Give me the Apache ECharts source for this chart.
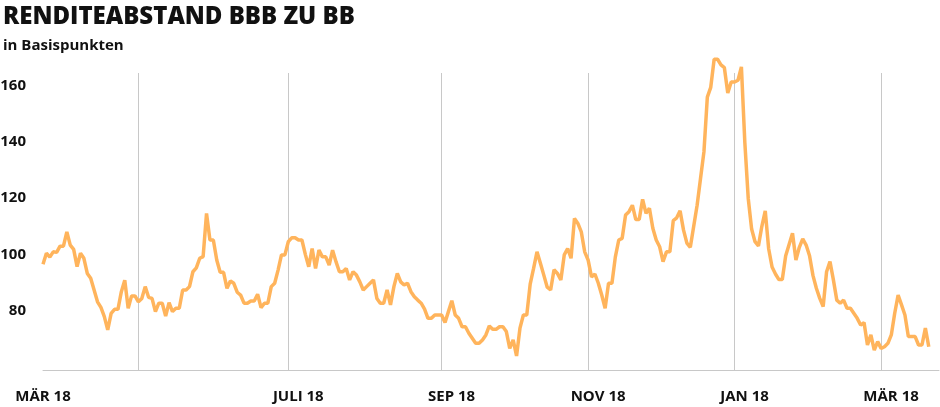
<!DOCTYPE html>
<html><head><meta charset="utf-8">
<script src="https://cdn.jsdelivr.net/npm/echarts@6/dist/echarts.min.js"></script>
<style>html,body{margin:0;padding:0;background:#fff}#c{width:940px;height:407px}</style>
</head><body><div id="c"></div>
<script>
// Business-day series, starting Thursday 22 March 2018
const startDate = '2018-03-22';
const categoryCount = 264; // axis extends a few days past the last value
const spread = [
  96.5, 100.4, 99, 100.9, 100.7, 102.9, 102.9, 108, 103.3, 101.8,
  95.6, 100.4, 98.6, 93.2, 91.5, 87.3, 83.1, 81.1, 77.8, 73.1,
  79, 80.4, 80.4, 86.7, 90.8, 80.8, 85.2, 85.2, 83.1, 84.3,
  88.5, 84.7, 84.3, 79.6, 82.6, 82.6, 78, 82.8,
  79.6, 80.8, 80.8, 87.3, 87.3, 88.5, 93.8, 95.2, 98.6, 99.2,
  114.6, 105.1, 105.1, 98, 93.6, 93.6, 87.9, 90.5, 89.7, 86.5,
  85.5, 82.6, 82.6, 83.4, 83.4, 85.8, 81, 82.6, 82.6, 88.5,
  89.7, 94.4, 99.8, 99.8, 104.5, 105.9, 105.9,
  105.1, 105.1, 100, 95.6, 102.1, 95, 101.5, 99.1, 99.1, 96.2,
  101.5, 97.4, 93.8, 93.8, 95, 90.9, 93.8, 92.6, 90.2, 87.3,
  88.5, 89.7, 90.9, 84.3, 82.6, 82.6, 87.3, 82, 88.5, 93.2,
  90.2, 89.1, 89.7, 86.7, 84.9, 83.7, 82.6,
  80.5, 77.2, 77.2, 78.4, 78.4, 78.4, 75.7, 79.6, 83.5, 78.4,
  77.2, 74.2, 74.2, 71.9, 70.1, 68.3, 68.3, 69.5, 71.3, 74.5,
  73.3, 73.3, 74.2, 74.2, 72.5, 66.5, 69.5, 63.8, 73.7, 78.4,
  78.4, 89.4, 95, 100.9, 96.8, 92.6, 88.3, 87.3,
  94.5, 93.2, 90.9, 99.8, 102.1, 98.6, 112.8, 111, 108, 100.9,
  98, 92, 93, 89.7, 85.5, 80.8, 89.7, 89.7, 99.1, 105.1,
  105.7, 114, 115.2, 117.5, 112.4, 112.4, 119.6, 114.6, 116.4, 109.3,
  105.1, 102.7, 97.4, 100.9, 100.9, 112, 113, 115.5,
  108.7, 104, 102.5, 110, 117.5, 127, 136.5, 156, 159.5, 169.5,
  169.5, 167.5, 166.5, 157.5, 161.4, 161.4, 162, 166.8, 140, 120,
  109, 104.5, 103, 110, 115.5, 102, 95.5, 93, 91, 91,
  99.5, 103.5, 107.5, 98, 102.5, 105.5, 103.3, 99.5, 92.5, 87.9,
  84.3, 81.4, 93.8, 97.4, 90.9, 83.7, 82.6, 83.7, 80.8, 80.8,
  79, 77.2, 74.8, 75.7, 67.7, 71.3, 65.9, 68.9, 66.5, 67.1,
  68.3, 71.3, 79, 85.5, 82, 78.4, 70.7, 70.7, 70.7, 67.7,
  67.7, 73.7, 67.1
];
const tickLabels = ['MÄR 18', 'JULI 18', 'SEP 18', 'NOV 18', 'JAN 18', 'MÄR 18'];
const yTickValues = [80, 100, 120, 140, 160];
const gridMonths = [4, 6, 8, 10, 0, 2];   // May, Jul, Sep, Nov, Jan, Mar
const labelMonths = [6, 8, 10, 0, 2];     // labelled months (plus first point)

const dates = [];
const d = new Date(startDate + 'T00:00:00Z');
while (dates.length < categoryCount) {
  const wd = d.getUTCDay();
  if (wd !== 0 && wd !== 6) dates.push(d.toISOString().slice(0, 10));
  d.setUTCDate(d.getUTCDate() + 1);
}
const monthOf = s => +s.slice(5, 7) - 1;
const gridIdx = [], labelIdx = [0];
dates.forEach((s, i) => {
  if (i > 0 && monthOf(s) !== monthOf(dates[i - 1])) {
    if (gridMonths.includes(monthOf(s))) gridIdx.push(i);
    if (labelMonths.includes(monthOf(s))) labelIdx.push(i);
  }
});

const FONT = 'Open Sans';
const chart = echarts.init(document.getElementById('c'), null, {renderer: 'canvas'});
chart.setOption({
  animation: false,
  backgroundColor: '#ffffff',
  title: {
    text: 'RENDITEABSTAND BBB ZU BB',
    subtext: 'in Basispunkten',
    left: -2, top: 0,
    itemGap: 9,
    textStyle: {fontFamily: FONT, fontSize: 24, fontWeight: 800, color: '#111111'},
    subtextStyle: {fontFamily: FONT, fontSize: 15, fontWeight: 'bold', color: '#111111'}
  },
  grid: {left: 43, right: 1, top: 73, bottom: 37, containLabel: false, outerBoundsMode: 'none'},
  xAxis: {
    type: 'category',
    data: dates,
    boundaryGap: false,
    axisLine: {show: true, lineStyle: {color: '#c8c8c8', width: 1}},
    axisTick: {show: false},
    splitLine: {show: true, interval: (i) => gridIdx.includes(i), lineStyle: {color: '#c8c8c8', width: 1}},
    axisLabel: {
      interval: (i) => labelIdx.includes(i),
      margin: 19,
      hideOverlap: false,
      formatter: (v, i) => {
        const k = labelIdx.indexOf(i);
        return k === 0 ? '{f|' + tickLabels[0] + '}' : '{o|' + tickLabels[k] + '}';
      },
      rich: {
        f: {fontFamily: FONT, fontSize: 15, fontWeight: 'bold', color: '#111111'},
        o: {fontFamily: FONT, fontSize: 15, fontWeight: 'bold', color: '#111111', padding: [0, 0, 0, 20]}
      }
    }
  },
  yAxis: {
    type: 'value',
    min: 58.8, max: 164.6,
    axisLine: {show: false},
    axisTick: {show: false},
    splitLine: {show: false},
    axisLabel: {customValues: yTickValues, margin: 17, fontFamily: FONT, fontSize: 15, fontWeight: 'bold', color: '#111111'}
  },
  series: [{
    type: 'line',
    data: spread,
    symbol: 'none',
    showSymbol: false,
    clip: false,
    lineStyle: {color: '#FFB45C', width: 3.5}
  }]
});
</script></body></html>
